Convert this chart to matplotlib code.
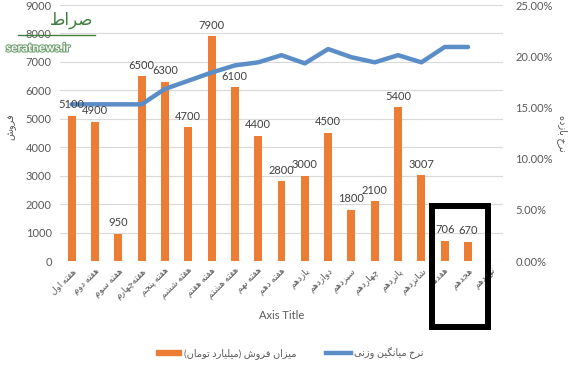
import matplotlib
matplotlib.use("Agg")
import matplotlib.pyplot as plt
import matplotlib.patheffects as pe
from matplotlib.patches import Rectangle
from matplotlib.lines import Line2D

plt.rcParams['font.family'] = ['Lato', 'DejaVu Sans']

weeks = ["هفته اول", "هفته دوم", "هفته سوم", "هفته\u200cچهارم", "هفته پنجم", "هفته ششم",
         "هفته هفتم", "هفته هشتم", "هفته نهم", "هفته دهم", "یازدهم", "دوازدهم", "سیزدهم",
         "چهاردهم", "پانزدهم", "شانزدهم", "هفدهم", "هجدهم", "نوزدهم"]
sales = [5100, 4900, 950, 6500, 6300, 4700, 7900, 6100, 4400, 2800, 3000, 4500,
         1800, 2100, 5400, 3007, 706, 670]
rate = [15.3, 15.3, 15.3, 15.3, 16.8, 17.6, 18.4, 19.1, 19.4, 20.1, 19.3, 20.7,
        19.9, 19.4, 20.1, 19.4, 20.9, 20.9]

sales_name = "میزان فروش (میلیارد تومان)"
rate_name = "نرخ میانگین وزنی"
left_title = "فروش"
right_title = "نرخ بازده"

# --- tiny persian shaper: presentation forms + visual order ---
FORMS = {
    'ا': ('\uFE8D', '\uFE8E', None, None),
    'ب': ('\uFE8F', '\uFE90', '\uFE91', '\uFE92'),
    'پ': ('\uFB56', '\uFB57', '\uFB58', '\uFB59'),
    'ت': ('\uFE95', '\uFE96', '\uFE97', '\uFE98'),
    'ج': ('\uFE9D', '\uFE9E', '\uFE9F', '\uFEA0'),
    'چ': ('\uFB7A', '\uFB7B', '\uFB7C', '\uFB7D'),
    'خ': ('\uFEA5', '\uFEA6', '\uFEA7', '\uFEA8'),
    'د': ('\uFEA9', '\uFEAA', None, None),
    'ر': ('\uFEAD', '\uFEAE', None, None),
    'ز': ('\uFEAF', '\uFEB0', None, None),
    'س': ('\uFEB1', '\uFEB2', '\uFEB3', '\uFEB4'),
    'ش': ('\uFEB5', '\uFEB6', '\uFEB7', '\uFEB8'),
    'ط': ('\uFEC1', '\uFEC2', '\uFEC3', '\uFEC4'),
    'ص': ('\uFEB9', '\uFEBA', '\uFEBB', '\uFEBC'),
    'ف': ('\uFED1', '\uFED2', '\uFED3', '\uFED4'),
    'گ': ('\uFB92', '\uFB93', '\uFB94', '\uFB95'),
    'ل': ('\uFEDD', '\uFEDE', '\uFEDF', '\uFEE0'),
    'م': ('\uFEE1', '\uFEE2', '\uFEE3', '\uFEE4'),
    'ن': ('\uFEE5', '\uFEE6', '\uFEE7', '\uFEE8'),
    'ه': ('\uFEE9', '\uFEEA', '\uFEEB', '\uFEEC'),
    'و': ('\uFEED', '\uFEEE', None, None),
    'ی': ('\uFBFC', '\uFBFD', '\uFBFE', '\uFBFF'),
}


def fa(s):
    out = []
    for i, c in enumerate(s):
        if c not in FORMS:
            if c != '\u200c':
                out.append(c)
            continue
        prev = s[i - 1] if i > 0 else ''
        nxt = s[i + 1] if i + 1 < len(s) else ''
        pj = prev in FORMS and FORMS[prev][2] is not None
        nj = nxt in FORMS and FORMS[c][2] is not None
        iso, fin, ini, med = FORMS[c]
        if pj and nj:
            out.append(med)
        elif pj:
            out.append(fin)
        elif nj:
            out.append(ini)
        else:
            out.append(iso)
    vis = ''.join(reversed(out))
    return vis.translate(str.maketrans('()', ')('))


fig = plt.figure(figsize=(5.8, 3.67), dpi=100)
ax = fig.add_axes([60 / 580, 1 - 261 / 367, 443 / 580, 256 / 367])
ax2 = ax.twinx()

gray = '#595959'
orange = '#EC7D35'
blue = '#5B8EC6'

x = list(range(len(sales)))
ax.bar(x, sales, width=0.34, color=orange, zorder=2)
ax.set_xlim(-0.5, len(weeks) - 0.5)
ax.set_ylim(0, 9000)
ax.set_yticks(range(0, 9001, 1000))
ax.grid(axis='y', color='#D9D9D9', lw=0.8, zorder=0)
ax.set_axisbelow(True)
ax.set_xticks(range(len(weeks)))
ax.set_xticklabels([fa(w) for w in weeks], rotation=45, ha='right', va='top',
                   rotation_mode='anchor', fontsize=6.5, color=gray)
ax.tick_params(axis='x', length=0, pad=4)
ax.tick_params(axis='y', length=0, pad=6, labelsize=8, labelcolor=gray)
for sp in ax.spines.values():
    sp.set_visible(False)
ax.set_xlabel("Axis Title", fontsize=8, color=gray, labelpad=6)

ax2.plot(x, rate, color=blue, lw=3.2, solid_joinstyle='round', solid_capstyle='round', zorder=3)
ax2.set_ylim(0, 25)
ax2.set_yticks(range(0, 26, 5))
ax2.set_yticklabels([f"{v:.2f}%" for v in range(0, 26, 5)])
ax2.tick_params(axis='y', length=0, pad=9, labelsize=8, labelcolor=gray)
for sp in ax2.spines.values():
    sp.set_visible(False)

for i, v in enumerate(sales):
    ax2.annotate(f"{v}", xy=(i, v), xycoords=ax.transData, xytext=(0, 4),
                 textcoords='offset points', ha='center', va='bottom',
                 fontsize=8, color='#404040', zorder=5)

fig.text(12 / 580, 1 - 127 / 367, fa(left_title), rotation=90, ha='center', va='center',
         fontsize=7, color=gray)
fig.text(562 / 580, 1 - 133 / 367, fa(right_title), rotation=-90, ha='center', va='center',
         fontsize=7, color=gray)

handles = [Rectangle((0, 0), 1, 1, color=orange),
           Line2D([0], [0], color=blue, lw=3.2)]
fig.legend(handles, [fa(sales_name), fa(rate_name)], loc='center',
           bbox_to_anchor=(290 / 580, 1 - 353 / 367), ncol=2, frameon=False,
           fontsize=7, labelcolor=gray, handlelength=2.6, handleheight=0.5,
           handletextpad=0.3, columnspacing=3.0)

# highlight box around the last weeks
fig.add_artist(Rectangle((432 / 580, 1 - 327 / 367), 56 / 580, 121 / 367,
                         transform=fig.transFigure, fill=False, ec='black', lw=4.3))

# watermark
fig.text(6 / 580, 1 - 48 / 367, "seratnews.ir", fontsize=8.5, color='white',
         fontweight='bold', ha='left', va='center', zorder=10,
         path_effects=[pe.withStroke(linewidth=1.5, foreground='#6E9E6E')])
fig.text(72 / 580, 1 - 20 / 367, fa("صراط"), fontsize=12, color='#3F7F3F',
         ha='center', va='center', zorder=10)
fig.add_artist(Line2D([18 / 580, 95 / 580], [1 - 35 / 367, 1 - 35 / 367],
                      transform=fig.transFigure, color='#3F7F3F', lw=1))

fig.savefig("out.png", dpi=100)
